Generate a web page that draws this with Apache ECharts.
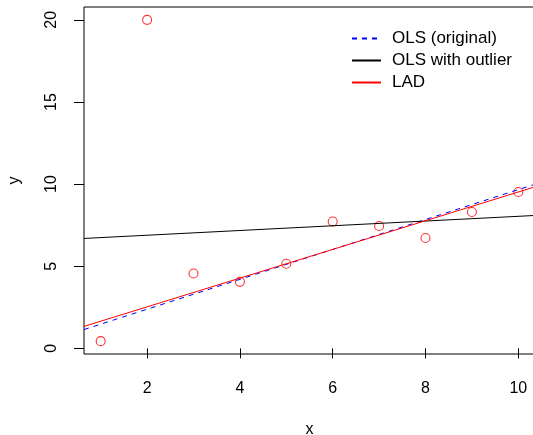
<!DOCTYPE html>
<html>
<head>
<meta charset="utf-8">
<script src="https://cdn.jsdelivr.net/npm/echarts@6/dist/echarts.min.js"></script>
<style>
  html, body { margin: 0; padding: 0; background: #fff; }
  #chart { width: 533px; height: 435px; }
</style>
</head>
<body>
<div id="chart"></div>
<script>
// Observations (x = 2 is the outlier)
const xValues = [1, 2, 3, 4, 5, 6, 7, 8, 9, 10];
const yValues = [0.44, 20, 4.56, 4.05, 5.15, 7.72, 7.45, 6.72, 8.30, 9.52];

// Fitted lines as [intercept, slope]
const olsOriginal = [0.564, 0.910];
const olsOutlier = [6.60, 0.144];
const ladFit = [0.78, 0.874];

const lineNames = ['OLS (original)', 'OLS with outlier', 'LAD'];

// Axis ticks
const xTicks = [2, 4, 6, 8, 10];
const yTicks = [0, 5, 10, 15, 20];

// Plot ranges: data range padded by 4% on each side
const xPad = (Math.max(...xValues) - Math.min(...xValues)) * 0.04;
const yPad = (Math.max(...yValues) - Math.min(...yValues)) * 0.04;
const xMin = Math.min(...xValues) - xPad;
const xMax = Math.max(...xValues) + xPad;
const yMin = Math.min(...yValues) - yPad;
const yMax = Math.max(...yValues) + yPad;

// A straight line spanning the whole plotting region
function ablinePoints(coef) {
  return [xMin, xMax].map(x => [x, coef[0] + coef[1] * x]);
}

const font = 'Liberation Sans, Arial, Helvetica, sans-serif';

const chart = echarts.init(document.getElementById('chart'), null, { renderer: 'canvas' });
chart.setOption({
  animation: false,
  backgroundColor: '#fff',
  textStyle: { fontFamily: font, color: '#000' },
  grid: {
    left: 84, top: 7, width: 451, height: 347,
    outerBoundsMode: 'none', containLabel: false,
    show: true, borderColor: '#000', borderWidth: 1, backgroundColor: 'transparent'
  },
  xAxis: {
    type: 'value', min: xMin, max: xMax,
    name: 'x', nameLocation: 'middle', nameGap: 68,
    nameTextStyle: { fontSize: 16, color: '#000', fontFamily: font },
    axisLine: { show: false },
    splitLine: { show: false },
    axisTick: { show: true, length: 10, lineStyle: { color: '#000' }, customValues: xTicks },
    axisLabel: { fontSize: 16, color: '#000', margin: 27, fontFamily: font, customValues: xTicks }
  },
  yAxis: {
    type: 'value', min: yMin, max: yMax,
    name: 'y', nameLocation: 'middle', nameGap: 61, nameRotate: 90,
    nameTextStyle: { fontSize: 16, color: '#000', fontFamily: font },
    axisLine: { show: false },
    splitLine: { show: false },
    axisTick: { show: true, length: 10, lineStyle: { color: '#000' }, customValues: yTicks },
    axisLabel: { fontSize: 16, color: '#000', margin: 24, rotate: 90, fontFamily: font, customValues: yTicks }
  },
  legend: {
    orient: 'vertical', left: 346, top: 25,
    itemWidth: 29, itemHeight: 14, itemGap: 5,
    data: lineNames,
    itemStyle: { opacity: 0 },
    textStyle: { fontSize: 17, lineHeight: 16, color: '#000', fontFamily: font, padding: [0, 0, 0, 6] }
  },
  series: [
    {
      name: 'points', type: 'scatter',
      data: xValues.map((x, i) => [x, yValues[i]]),
      symbol: 'circle', symbolSize: 9,
      itemStyle: { color: 'rgba(0,0,0,0)', borderColor: '#FF0000', borderWidth: 1.1 },
      z: 2
    },
    {
      name: lineNames[0], type: 'line', data: ablinePoints(olsOriginal),
      symbol: 'none', lineStyle: { color: '#0000FF', width: 1, type: [5, 5] },
      itemStyle: { color: '#0000FF' }, z: 3
    },
    {
      name: lineNames[1], type: 'line', data: ablinePoints(olsOutlier),
      symbol: 'none', lineStyle: { color: '#000000', width: 1 },
      itemStyle: { color: '#000000' }, z: 4
    },
    {
      name: lineNames[2], type: 'line', data: ablinePoints(ladFit),
      symbol: 'none', lineStyle: { color: '#FF0000', width: 1 },
      itemStyle: { color: '#FF0000' }, z: 5
    }
  ]
});
</script>
</body>
</html>
